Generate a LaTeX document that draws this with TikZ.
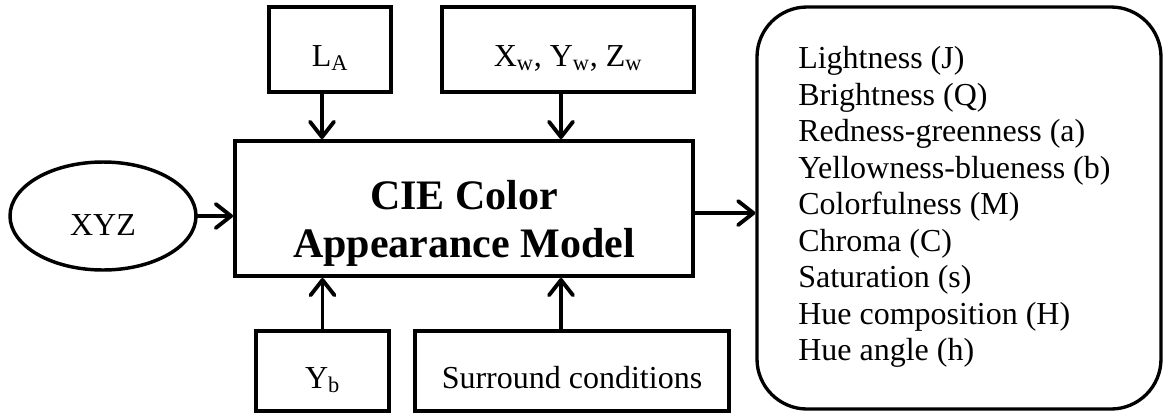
\documentclass[tikz,border=0pt]{standalone}
\usepackage{fontspec}
\setmainfont{Liberation Serif}
\usetikzlibrary{arrows.meta,shapes.geometric}
\begin{document}
\begin{tikzpicture}[x=0.75pt,y=-0.75pt,
  box/.style={draw,line width=2.7pt,inner sep=0pt,minimum height=63.75pt,
    text height=24.75pt,text depth=0pt,font=\fontsize{24}{27}\selectfont},
  lowbox/.style={box,minimum height=60pt,text height=25.5pt},
  arr/.style={line width=2.9pt,line cap=round,
    -{Straight Barb[length=11.5pt,width=18pt,line cap=round,line join=round]}},
  listtext/.style={anchor=north west,inner sep=0pt,align=left,font=\fontsize{24}{27.4}\selectfont},
  maintext/.style={anchor=north,inner sep=0pt,align=center,font=\bfseries\fontsize{31.5}{36}\selectfont}
]
\useasboundingbox (0,0) rectangle (1168,412);

% main block
\node[draw,line width=3pt,minimum width=343.5pt,minimum height=101.25pt,inner sep=0pt] (main) at (464,208.5) {};
\node[maintext] (mt) at (464,180) {CIE Color\\Appearance Model};

% inputs
\node[box,minimum width=91.5pt] (la) at (330,49.5) {L\textsubscript{A}};
\node[box,minimum width=189pt] (xw) at (568,49.5) {X\textsubscript{w}, Y\textsubscript{w}, Z\textsubscript{w}};
\node[lowbox,minimum width=99.75pt] (yb) at (322.5,371) {Y\textsubscript{b}};
\node[lowbox,minimum width=235.5pt] (sur) at (572,371) {Surround conditions};
\node[draw,ellipse,line width=2.6pt,inner sep=0pt,minimum width=139.5pt,minimum height=81pt,
  text height=28.5pt,text depth=0pt,font=\fontsize{24}{27}\selectfont] (xyz) at (103,216) {XYZ};

% output block
\node[draw,line width=2.5pt,rounded corners=37.5pt,minimum width=303pt,minimum height=301.5pt,inner sep=0pt] (out) at (959,208) {};
\node[listtext] (lt) at (798,46) {Lightness (J)\\Brightness (Q)\\Redness-greenness (a)\\Yellowness-blueness (b)\\Colorfulness (M)\\Chroma (C)\\Saturation (s)\\Hue composition (H)\\Hue angle (h)};

% connectors
\draw[arr] ([xshift=-6pt]la.south) -- ([xshift=-6pt]la.south |- main.north);
\draw[arr] ([xshift=-5.25pt]xw.south) -- ([xshift=-5.25pt]xw.south |- main.north);
\draw[arr] (yb.north) -- (yb.north |- main.south);
\draw[arr] ([xshift=-8.25pt]sur.north) -- ([xshift=-8.25pt]sur.north |- main.south);
\draw[arr] (xyz.east) -- (xyz.east -| main.west);
\draw[arr] ([yshift=-3.4pt]main.east) -- ([yshift=-3.4pt]main.east -| out.west);
\end{tikzpicture}
\end{document}
